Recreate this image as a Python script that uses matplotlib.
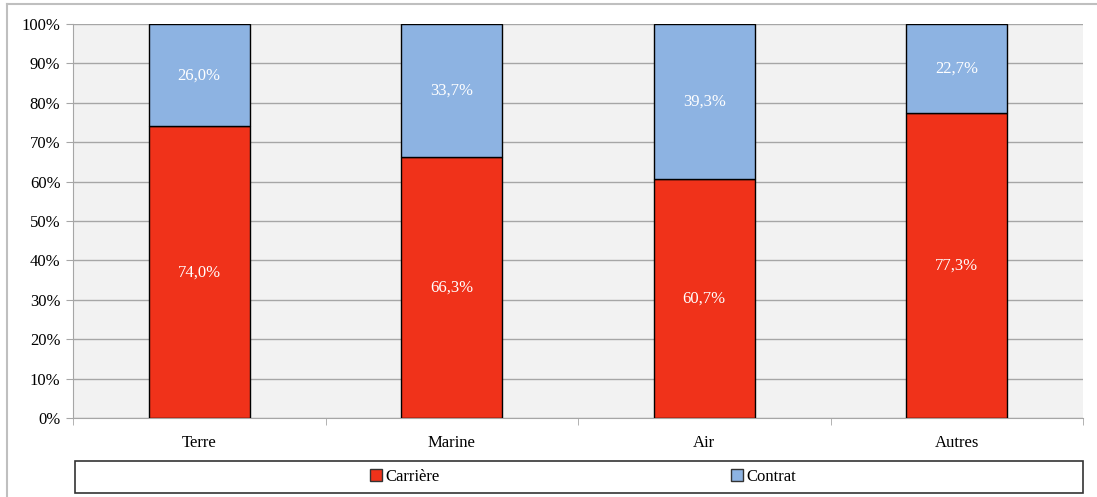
import matplotlib.pyplot as plt
from matplotlib.lines import Line2D
from matplotlib.patches import Rectangle

categories = ['Terre', 'Marine', 'Air', 'Autres']
carriere = [74.0, 66.3, 60.7, 77.3]
contrat = [26.0, 33.7, 39.3, 22.7]
series_names = ['Carrière', 'Contrat']

red = '#F0321A'
blue = '#8DB3E2'

plt.rcParams['font.family'] = ['Liberation Serif', 'DejaVu Serif']

fig = plt.figure(figsize=(10.97, 4.97), dpi=100)
ax = fig.add_axes([73 / 1097, 1 - 418 / 497, 1010 / 1097, 394 / 497])
ax.set_facecolor('#F2F2F2')

x = list(range(len(categories)))
w = 0.4
ax.bar(x, carriere, w, color=red, edgecolor='black', linewidth=1, zorder=3)
ax.bar(x, contrat, w, bottom=carriere, color=blue, edgecolor='black', linewidth=1, zorder=3)

for i in x:
    ax.text(i, carriere[i] / 2, f'{carriere[i]:.1f}%'.replace('.', ','),
            ha='center', va='center', color='white', fontsize=12, zorder=4)
    ax.text(i, carriere[i] + contrat[i] / 2, f'{contrat[i]:.1f}%'.replace('.', ','),
            ha='center', va='center', color='white', fontsize=12, zorder=4)

ax.set_xlim(-0.5, 3.5)
ax.set_ylim(0, 100)
ax.set_yticks(range(0, 101, 10))
ax.set_yticklabels([f'{v}%' for v in range(0, 101, 10)], fontsize=12)
ax.yaxis.grid(True, color='#A6A6A6', linewidth=1, zorder=0)

ax.set_xticks(x)
ax.set_xticklabels(categories, fontsize=12)
ax.tick_params(axis='x', length=0, pad=12)
ax.set_xticks([-0.5, 0.5, 1.5, 2.5, 3.5], minor=True)
ax.tick_params(axis='x', which='minor', length=5, color='#A6A6A6')
ax.tick_params(axis='y', length=5, color='#A6A6A6', pad=4)

for s in ['top', 'right']:
    ax.spines[s].set_visible(False)
ax.spines['left'].set_color('#A6A6A6')
ax.spines['bottom'].set_color('#A6A6A6')

# legend box
fig.patches.append(Rectangle((75 / 1097, 1 - 493 / 497), 1008 / 1097, 32 / 497,
                             transform=fig.transFigure, facecolor='white',
                             edgecolor='#333333', linewidth=1.2))
handles = [Rectangle((0, 0), 1, 1, facecolor=red, edgecolor='#333333'),
           Rectangle((0, 0), 1, 1, facecolor=blue, edgecolor='#333333')]
fig.legend(handles, series_names, loc='center', bbox_to_anchor=(583 / 1097, 1 - 477 / 497),
           ncol=2, frameon=False, fontsize=12, handlelength=0.7, handleheight=0.7,
           handletextpad=0.2, columnspacing=17.5)

# outer frame
fig.add_artist(Line2D([7 / 1097, 1], [1 - 4 / 497, 1 - 4 / 497], transform=fig.transFigure,
                      color='#BFBFBF', linewidth=1.5))
fig.add_artist(Line2D([7 / 1097, 7 / 1097], [0, 1 - 4 / 497], transform=fig.transFigure,
                      color='#BFBFBF', linewidth=1.5))

fig.savefig('out.png', dpi=100)
